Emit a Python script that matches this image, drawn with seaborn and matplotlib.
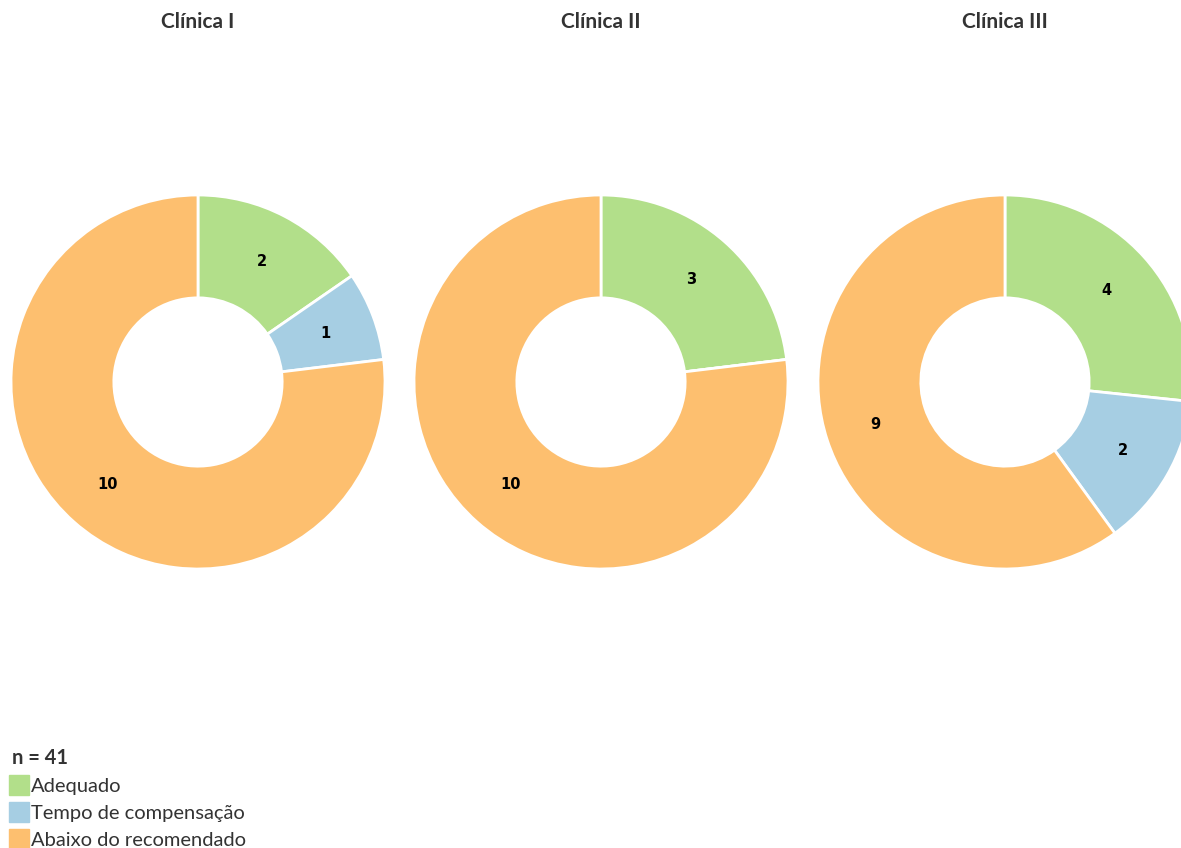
import numpy as np
import seaborn as sns
import matplotlib.pyplot as plt
from matplotlib.lines import Line2D

sns.set_theme(style="white")
plt.rcParams['font.family'] = ['Lato', 'DejaVu Sans']

clinicas = ["Clínica I", "Clínica II", "Clínica III"]
categorias = ["Adequado", "Tempo de compensação", "Abaixo do recomendado"]
adequado = [2, 3, 4]
tempo = [1, 0, 2]
abaixo = [10, 10, 9]
n_total = sum(adequado) + sum(tempo) + sum(abaixo)

pal = sns.color_palette("Paired")
cores = [pal[2], pal[0], pal[6]]
texto = "#333333"

W, H = 1181, 848
f = plt.figure(figsize=(W / 100, H / 100), dpi=100)

centros = [198, 601, 1005]
cy, R = 382, 187

for i, nome in enumerate(clinicas):
    cx = centros[i]
    ax = f.add_axes([(cx - R) / W, (H - cy - R) / H, 2 * R / W, 2 * R / H])
    vals = [adequado[i], tempo[i], abaixo[i]]
    tot = sum(vals)

    def fmt(p, tot=tot):
        v = int(round(p * tot / 100))
        return str(v) if v > 0 else ""

    wedges, _, autot = ax.pie(vals, colors=cores, startangle=90, counterclock=False,
                              radius=1, autopct=fmt, pctdistance=0.73,
                              wedgeprops=dict(width=0.55, edgecolor="white",
                                              linewidth=2, joinstyle="round"),
                              textprops=dict(fontsize=10.5, fontweight="bold",
                                             color="black", family="DejaVu Sans"))
    ax.set_xlim(-1, 1)
    ax.set_ylim(-1, 1)
    ax.axis("off")
    f.text(cx / W, 1 - 22 / H, nome, ha="center", va="center",
           fontsize=15, fontweight="bold", color=texto)

handles = [Line2D([0], [0], marker="s", linestyle="", markersize=14,
                  markerfacecolor=c, markeredgecolor=c) for c in cores]
leg = f.legend(handles, categorias, loc="upper left",
               bbox_to_anchor=(12 / W, 1 - 748 / H), frameon=False,
               title=f"n = {n_total}", alignment="left", fontsize=14.5,
               title_fontsize=14.5, handlelength=0.7, handletextpad=0.25,
               labelspacing=0.5, borderpad=0, borderaxespad=0)
leg.get_title().set_fontweight("bold")
leg.get_title().set_color(texto)
for t in leg.get_texts():
    t.set_color(texto)

f.savefig("out.png", dpi=100)
